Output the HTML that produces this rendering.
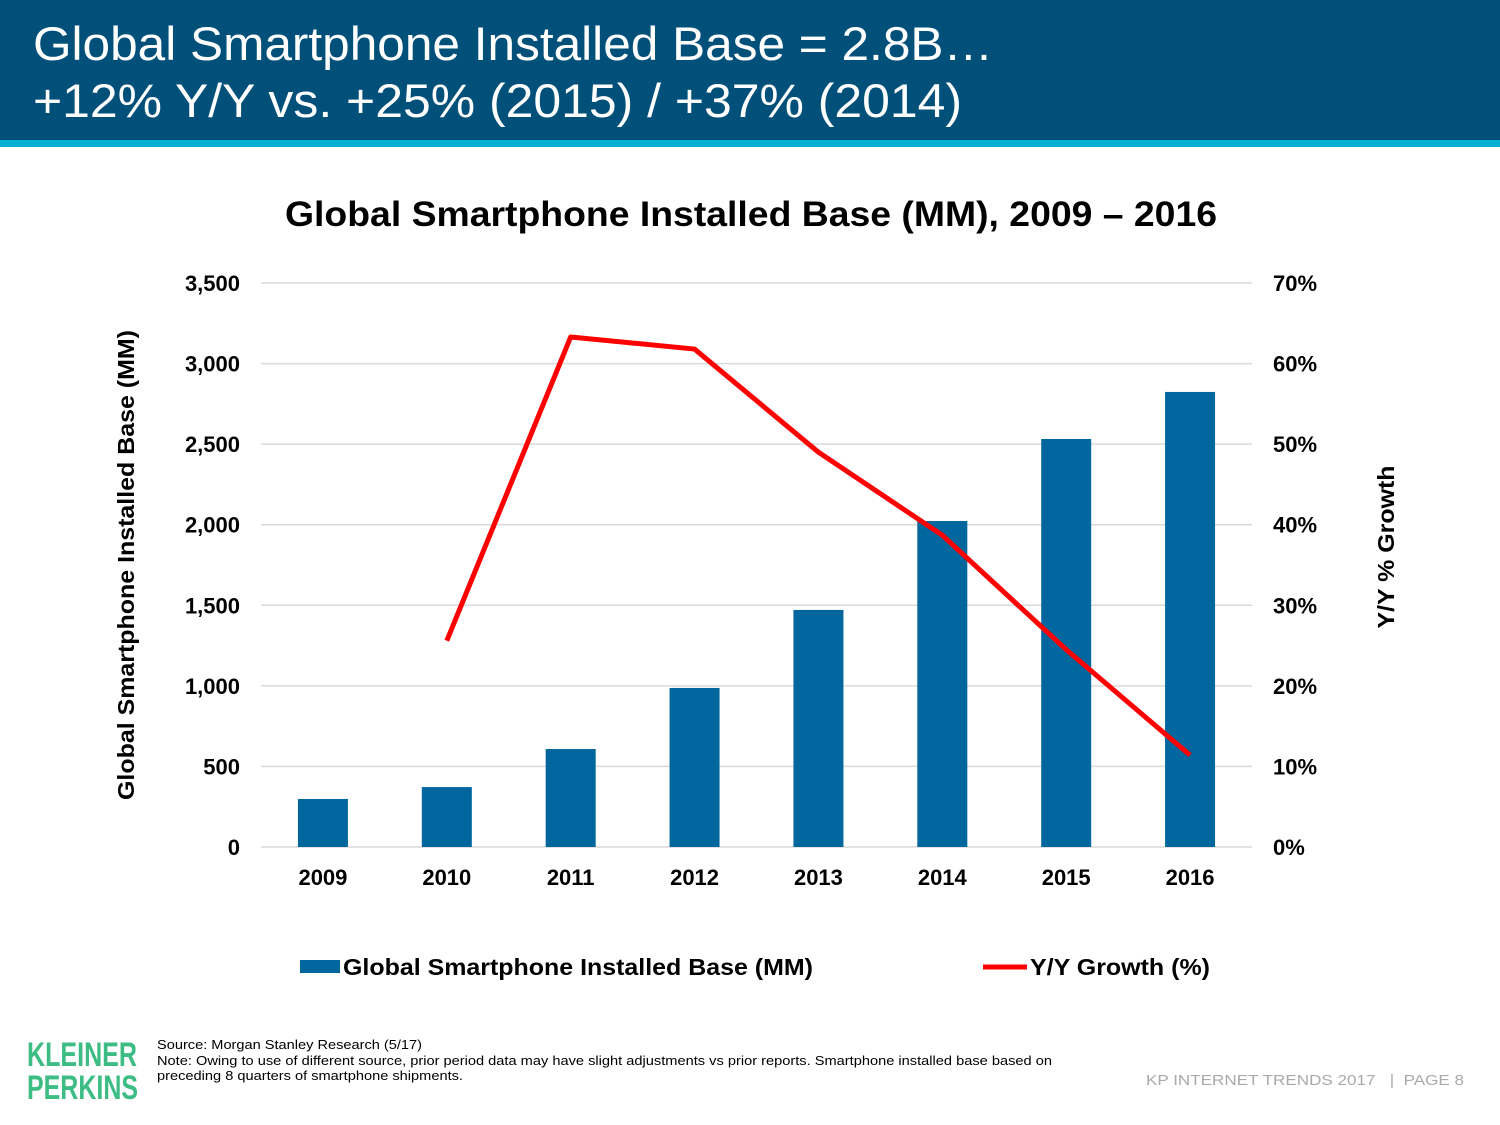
<!DOCTYPE html>
<html><head><meta charset="utf-8"><style>
body{margin:0;width:1500px;height:1125px;overflow:hidden;background:#fff;font-family:"Liberation Sans",sans-serif;position:relative}
#hdr{position:absolute;left:0;top:0;width:1500px;height:140px;background:#00507a}
#strip{position:absolute;left:0;top:140px;width:1500px;height:7px;background:#00b0d0}
</style></head><body>
<div id="hdr"></div>
<div id="strip"></div>
<svg id="chart" width="1500" height="1125" style="position:absolute;left:0;top:0">
<text x="33" y="60" font-size="47" fill="#fff" textLength="960" lengthAdjust="spacingAndGlyphs">Global Smartphone Installed Base = 2.8B…</text>
<text x="33" y="117" font-size="47" fill="#fff" textLength="929" lengthAdjust="spacingAndGlyphs">+12% Y/Y vs. +25% (2015) / +37% (2014)</text>
<text x="285" y="226" font-size="35" font-weight="bold" fill="#000" textLength="932" lengthAdjust="spacingAndGlyphs">Global Smartphone Installed Base (MM), 2009 – 2016</text>
<g id="grid"></g><g id="bars"></g><g id="line"></g><g id="axes"></g>
<text transform="translate(134,565) rotate(-90)" text-anchor="middle" font-size="23" font-weight="bold" textLength="470" lengthAdjust="spacingAndGlyphs">Global Smartphone Installed Base (MM)</text>
<text transform="translate(1394,547) rotate(-90)" text-anchor="middle" font-size="23" font-weight="bold" textLength="163" lengthAdjust="spacingAndGlyphs">Y/Y % Growth</text>
<g>
<rect x="300" y="960" width="40" height="13" fill="#00679e"/>
<text x="343" y="975" font-size="23" font-weight="bold" textLength="470" lengthAdjust="spacingAndGlyphs">Global Smartphone Installed Base (MM)</text>
<line x1="983" y1="967" x2="1027" y2="967" stroke="#ff0000" stroke-width="5"/>
<text x="1030" y="975" font-size="23" font-weight="bold" textLength="180" lengthAdjust="spacingAndGlyphs">Y/Y Growth (%)</text>
</g>
<text x="27" y="1066" font-size="34" font-weight="bold" fill="#3dbd84" textLength="110" lengthAdjust="spacingAndGlyphs">KLEINER</text>
<text x="27" y="1099" font-size="34" font-weight="bold" fill="#3dbd84" textLength="111" lengthAdjust="spacingAndGlyphs">PERKINS</text>
<g font-size="13" fill="#000">
<text x="157" y="1049" textLength="265" lengthAdjust="spacingAndGlyphs">Source: Morgan Stanley Research (5/17)</text>
<text x="157" y="1065" textLength="895" lengthAdjust="spacingAndGlyphs">Note: Owing to use of different source, prior period data may have slight adjustments vs prior reports. Smartphone installed base based on</text>
<text x="157" y="1080" textLength="306" lengthAdjust="spacingAndGlyphs">preceding 8 quarters of smartphone shipments.</text>
</g>
<text x="1146" y="1085" font-size="15" fill="#aaa" textLength="318" lengthAdjust="spacingAndGlyphs">KP INTERNET TRENDS 2017 &#160; | &#160;PAGE 8</text>
</svg>
<script>
const categories=["2009","2010","2011","2012","2013","2014","2015","2016"];
const baseValues=[298,372,608,987,1471,2023,2532,2824];
const growthValues=[null,25.6,63.3,61.8,49.0,38.7,24.5,11.4];
const leftTicks=[0,500,1000,1500,2000,2500,3000,3500];
const rightTicks=[0,10,20,30,40,50,60,70];
const NS="http://www.w3.org/2000/svg";
const x0=261,x1=1252,y0=847,y1=283;
const band=(x1-x0)/categories.length;
const xC=i=>x0+band*(i+0.5);
const yL=v=>y0-(v/3500)*(y0-y1);
const yR=v=>y0-(v/70)*(y0-y1);
function mk(tag,attrs,parent){const e=document.createElementNS(NS,tag);for(const k in attrs)e.setAttribute(k,attrs[k]);parent.appendChild(e);return e;}
const grid=document.getElementById('grid'),bars=document.getElementById('bars'),line=document.getElementById('line'),axes=document.getElementById('axes');
leftTicks.forEach((t,i)=>{
 const g=mk('line',{x1:x0,x2:x1,y1:yL(t),y2:yL(t),stroke:'#d9d9d9','stroke-width':1.5},grid);
 
 
 const l=mk('text',{x:240,y:yL(t)+8,'text-anchor':'end','font-size':22,'font-weight':'bold'},axes);l.textContent=t.toLocaleString('en-US');
 
 
});
rightTicks.forEach(t=>{
 const l=mk('text',{x:1273,y:yR(t)+8,'font-size':22,'font-weight':'bold'},axes);l.textContent=t+'%';
 
 
});
categories.forEach((c,i)=>{
 const r=mk('rect',{x:xC(i)-25,y:yL(baseValues[i]),width:50,height:y0-yL(baseValues[i]),fill:'#00679e'},bars);
 
 
 const l=mk('text',{x:xC(i),y:885,'text-anchor':'middle','font-size':22,'font-weight':'bold'},axes);l.textContent=c;
 
 
});
const pts=[];growthValues.forEach((v,i)=>{if(v!==null)pts.push(xC(i)+','+yR(v));});
const pl=mk('polyline',{points:pts.join(' '),fill:'none',stroke:'#ff0000','stroke-width':5,'stroke-linejoin':'round'},line);


</script>
</body></html>
